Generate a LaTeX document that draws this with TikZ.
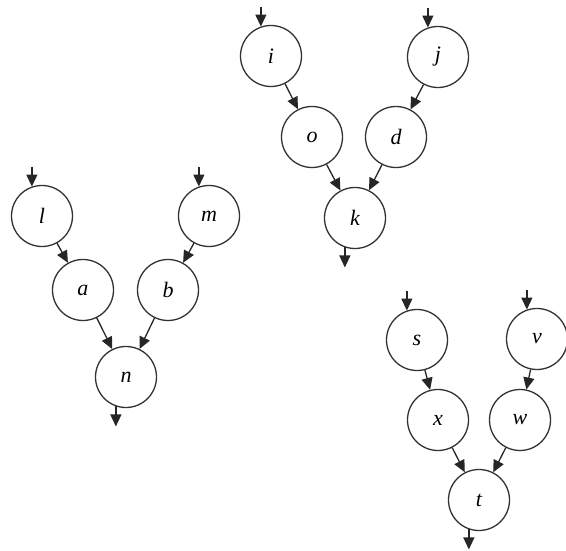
\documentclass[tikz,border=0pt]{standalone}
\usepackage{fontspec}
\setmainfont{Liberation Serif}
\usetikzlibrary{arrows.meta}
\begin{document}
\begin{tikzpicture}[x=1pt,y=-1pt,
  vert/.style={circle,draw=black!80,line width=1.3pt,minimum size=61pt,inner sep=0pt,
    font=\fontsize{22}{22}\selectfont\itshape},
  arr/.style={draw=black!85,line width=1.3pt,-{Triangle[length=12pt,width=11pt]}}]
\useasboundingbox (0,0) rectangle (566,551);
% left group
\node[vert] (l) at (42,216) {l};
\node[vert] (m) at (209,216) {m};
\node[vert] (a) at (83,290) {a};
\node[vert] (b) at (168,290) {b};
\node[vert] (n) at (126,377) {n};
% top group
\node[vert] (i) at (271,56) {i};
\node[vert] (j) at (438,57) {j};
\node[vert] (o) at (312,137) {o};
\node[vert] (d) at (396,137) {d};
\node[vert] (k) at (355,218) {k};
% right group
\node[vert] (s) at (417,340) {s};
\node[vert] (v) at (537,339) {v};
\node[vert] (x) at (438,420) {x};
\node[vert] (w) at (520,420) {w};
\node[vert] (t) at (479,500) {t};
% free ends
\foreach \p in {l,m,i,j,s,v} {
  \coordinate (\p in) at ([yshift=20pt]\p.109);
  \draw[arr] (\p in) -- (\p.109);
}
\foreach \p in {n,k,t} {
  \coordinate (\p out) at ([yshift=-20pt]\p.251);
  \draw[arr] (\p.251) -- (\p out);
}
% internal connectors
\draw[arr] (l) -- (a);
\draw[arr] (m) -- (b);
\draw[arr] (a) -- (n);
\draw[arr] (b) -- (n);
\draw[arr] (i) -- (o);
\draw[arr] (j) -- (d);
\draw[arr] (o) -- (k);
\draw[arr] (d) -- (k);
\draw[arr] (s) -- (x);
\draw[arr] (v) -- (w);
\draw[arr] (x) -- (t);
\draw[arr] (w) -- (t);
\end{tikzpicture}
\end{document}
